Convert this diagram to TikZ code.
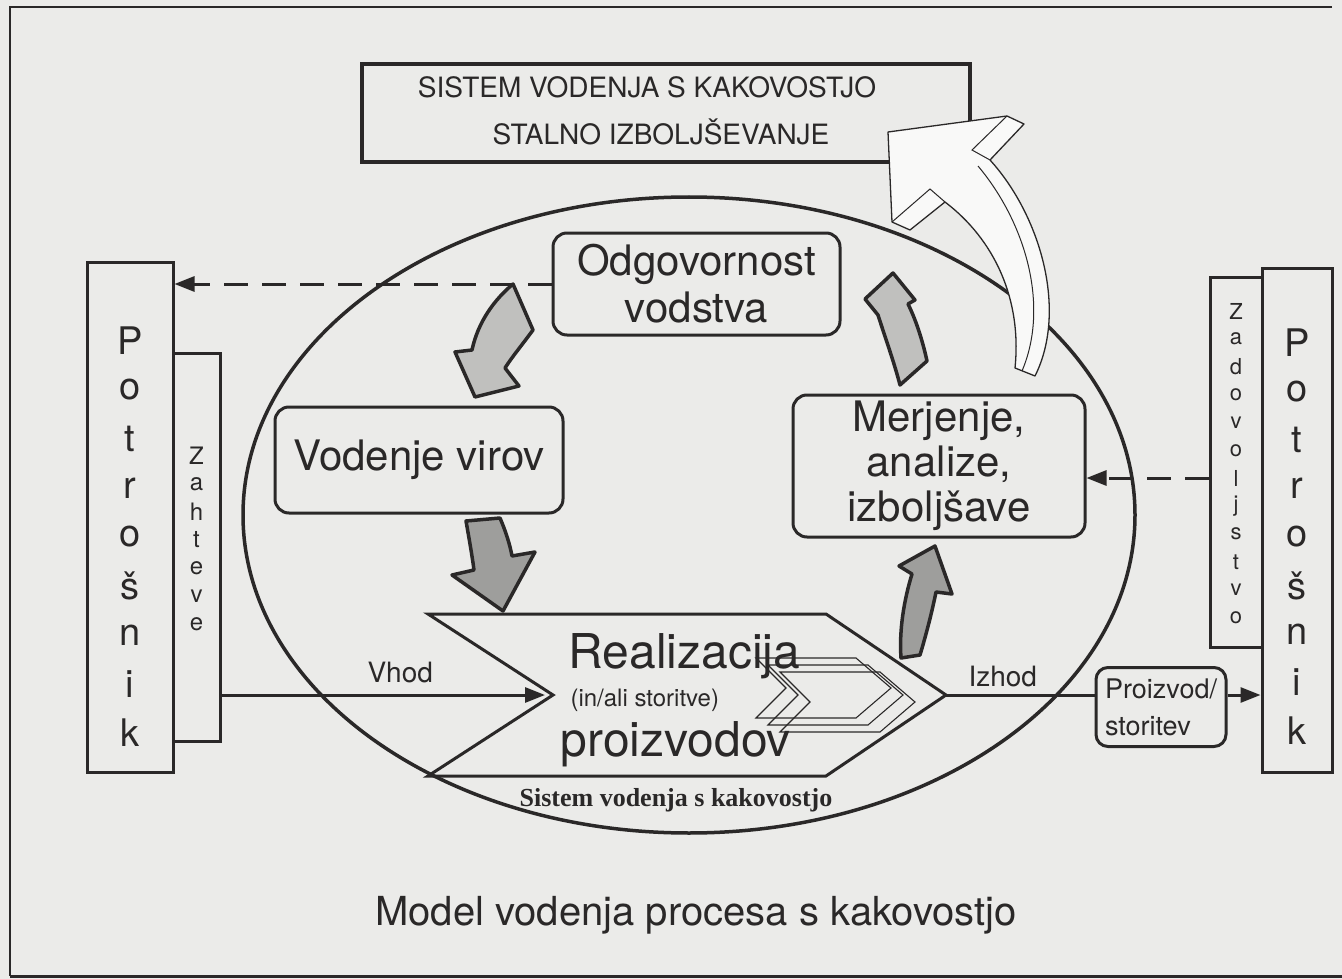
\documentclass[tikz,border=0pt]{standalone}
\usepackage{fontspec}
\setmainfont{TeX Gyre Heros}
\newfontfamily\serifbf{Liberation Serif}
\usetikzlibrary{arrows.meta,calc}
\newcommand\fsz[2]{\fontsize{#1}{#2}\selectfont}
\definecolor{paper}{RGB}{235,235,233}
\definecolor{ink}{RGB}{42,40,40}
\definecolor{gA}{RGB}{192,192,190}
\definecolor{gB}{RGB}{158,158,156}
\begin{document}
\begin{tikzpicture}[x=1pt,y=-1pt,
  ln/.style={draw=ink,line width=3pt},
  box/.style={draw=ink,line width=3pt,fill=paper,inner sep=0pt},
  rbox/.style={box,rounded corners=14pt},
  arr/.style={-{Triangle[length=20pt,width=15pt]}},
  dsh/.style={dash pattern=on 24pt off 14pt},
  garrow/.style={draw=ink,line width=3.5pt,line join=round},
  chev/.style={draw=ink,line width=1.1pt,line join=miter},
  lbl/.style={text=ink}
]
\useasboundingbox (0,0) rectangle (1342,979);
\fill[paper] (0,0) rectangle (1342,979);
% frame
\draw[ink,line width=1.8pt] (1332,7) -- (10,7) -- (10,976);
\draw[ink,line width=3pt] (10,976) -- (1342,976);

% top box
\node[box,line width=3.5pt,minimum width=608pt,minimum height=98pt] (sys) at (666,113) {};
\node[lbl,anchor=base,font=\fsz{28}{34}] (sysA) at (647,98) {SISTEM VODENJA S KAKOVOSTJO};
\node[lbl,anchor=base,font=\fsz{28}{34}] (sysB) at (661,145) {STALNO IZBOLJŠEVANJE};

% cycle
\draw[ink,line width=3.5pt] (689,515) ellipse [x radius=446, y radius=318];

% big white ribbon arrow
\draw[ink,line width=1.3pt,fill=white!70!paper,line join=round]
  (888,132) -- (1007,116) -- (1024,124) -- (990,160)
  .. controls (1040,215) and (1068,310) .. (1035,376)
  -- (1015,368)
  .. controls (1022,300) and (995,240) .. (945,202)
  -- (910,230) -- (892,222) -- cycle;
\draw[ink,line width=1pt] (1007,116) -- (972,150) -- (990,160);
\draw[ink,line width=1pt] (892,222) -- (930,189) -- (945,202);
\draw[ink,line width=1pt] (978,166) .. controls (1025,222) and (1050,305) .. (1022,371);

% side boxes
\node[box,minimum width=86pt,minimum height=510pt] (potL) at (130,517) {};
\node[box,minimum width=47pt,minimum height=388pt] (zah) at (196.5,547) {};
\node[box,minimum width=70pt,minimum height=504pt] (potR) at (1297,520) {};
\node[box,minimum width=52pt,minimum height=370pt] (zad) at (1236,462) {};

\foreach \c [count=\i from 0] in {P,o,t,r,o,š,n,i,k}
  \node[lbl,font=\fsz{38}{40}] (pl\i) at (130,{341+49*\i}) {\c};
\foreach \c [count=\i from 0] in {P,o,t,r,o,š,n,i,k}
  \node[lbl,font=\fsz{38}{40}] (pr\i) at (1297,{343+48.5*\i}) {\c};
\foreach \c [count=\i from 0] in {Z,a,h,t,e,v,e}
  \node[lbl,font=\fsz{24}{26}] (zh\i) at (196.5,{456+28*\i}) {\c};
\foreach \c [count=\i from 0] in {Z,a,d,o,v,o,l,j,s,t,v,o}
  \node[lbl,font=\fsz{22}{24}] (zd\i) at (1236,{311+27.9*\i}) {\c};

% process boxes
\node[rbox,lbl,minimum width=287pt,minimum height=102pt,align=center,font=\fsz{42}{47}] (odg) at (696.5,284) {Odgovornost\\vodstva};
\node[rbox,lbl,minimum width=288pt,minimum height=106pt,font=\fsz{42}{47}] (vod) at (419,460) {Vodenje virov};
\node[rbox,lbl,minimum width=292pt,minimum height=142pt,align=center,font=\fsz{42}{45}] (mer) at (939,466) {Merjenje,\\analize,\\izboljšave};
\node[rbox,lbl,rounded corners=12pt,minimum width=130pt,minimum height=79pt,align=left,font=\fsz{27}{37}] (pro) at (1161,707) {Proizvod/\\storitev};

% realizacija chevron
\coordinate (rn) at (553,695);
\coordinate (rt) at (946,695);
\draw[ln,line join=miter] (428,614) -- (826,614) -- (rt) -- (826,776) -- (428,776) -- (rn) -- cycle;
\node[lbl,anchor=base west,font=\fsz{48}{56}] (rA) at (565,668) {Realizacija};
\node[lbl,anchor=base west,font=\fsz{24}{28}] (rB) at (567,706) {(in/ali storitve)};
\node[lbl,anchor=base west,font=\fsz{48}{56}] (rC) at (557,756) {proizvodov};
\foreach \dx/\dy in {-24/-14,-12/-7,0/0}
  \draw[chev] ({780+\dx},{672+\dy}) -- ({880+\dx},{672+\dy}) -- ({915+\dx},{702+\dy})
    -- ({880+\dx},{732+\dy}) -- ({780+\dx},{732+\dy}) -- ({810+\dx},{702+\dy}) -- cycle;

% gray cycle arrows
\draw[garrow,fill=gA] (513,284) -- (533,330) .. controls (522,345) and (512,357) .. (505,368)
  -- (519,386) -- (475,397) -- (455,352) -- (472,350)
  .. controls (478,322) and (494,300) .. (513,284) -- cycle;
\draw[garrow,fill=gB] (466,521) -- (500,518) .. controls (506,532) and (510,545) .. (512,556)
  -- (535,552) -- (503,611) -- (452,575) -- (474,570)
  .. controls (472,555) and (469,538) .. (466,521) -- cycle;
\draw[garrow,fill=gB] (901,658) -- (920,655) .. controls (926,635) and (932,612) .. (936,592)
  -- (952,594) -- (935,546) -- (899,566) -- (912,574)
  .. controls (904,600) and (899,630) .. (901,658) -- cycle;
\draw[garrow,fill=gA] (900,385) -- (927,361) .. controls (922,338) and (915,318) .. (908,304)
  -- (915,300) -- (893,273) -- (865,299) -- (878,315)
  .. controls (886,340) and (894,362) .. (900,385) -- cycle;

% connectors
\draw[ln,dsh,arr] (odg.west) -- (potL.east |- odg.west);
\draw[ln,dsh,arr] ($(zad.west |- mer.east)+(0,12)$) -- ($(mer.east)+(0,12)$);
\draw[ln,arr,shorten >=8pt] (zah.east |- rn) -- (rn);
\draw[ln] (rt) -- (pro.west |- rt);
\draw[ln,arr] (pro.east |- rt) -- (potR.west |- rt);

\node[lbl,anchor=base west,font=\fsz{28}{30}] (vh) at (364,682) {Vhod};
\node[lbl,anchor=base west,font=\fsz{28}{30}] (iz) at (965,686) {Izhod};

\node[lbl,font=\serifbf\bfseries\fsz{26}{30}] (sv) at (676,800) {Sistem vodenja s kakovostjo};
\node[lbl,font=\fsz{40}{48}] (cap) at (696,915) {Model vodenja procesa s kakovostjo};
\end{tikzpicture}
\end{document}
